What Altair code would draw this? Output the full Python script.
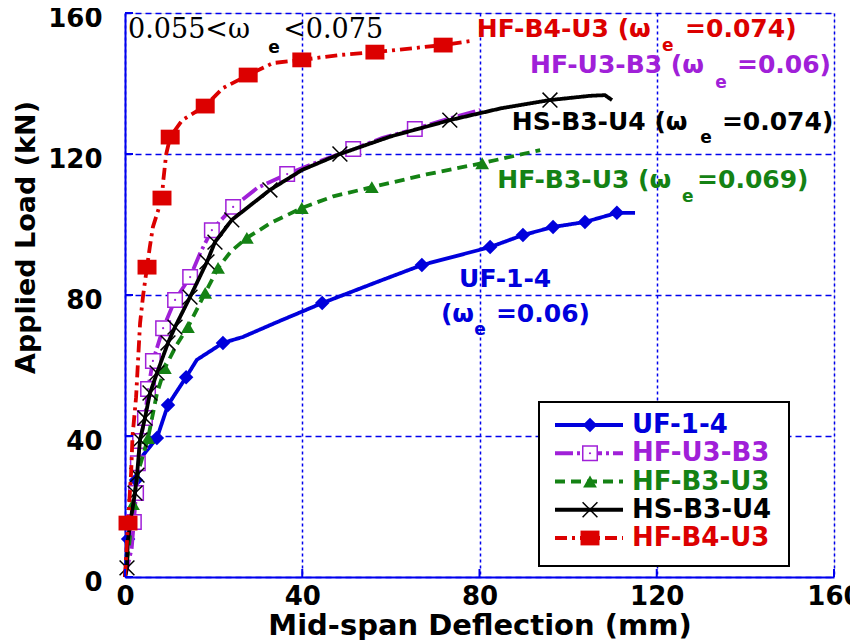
import altair as alt
import pandas as pd

SERIES = ["UF-1-4", "HF-U3-B3", "HF-B3-U3", "HS-B3-U4", "HF-B4-U3"]
COLORS = ["#0000DC", "#A020D8", "#148214", "#000000", "#DC0000"]

# ---- curve data (deflection mm, load kN) ----
uf_x = [0, 0.7, 1.8, 2.5, 4.1, 7.2, 9.7, 13.8, 16.2, 22.1, 26.6, 34.3, 44.5, 56.9, 67.0, 82.4, 89.8, 96.6, 103.8, 111.0, 115.1]
uf_y = [0, 10.8, 19.0, 27.5, 34.6, 39.4, 48.8, 56.7, 61.6, 66.4, 68.1, 72.3, 77.7, 83.7, 88.5, 93.6, 97.0, 99.3, 100.7, 103.3, 103.3]
uf_mx = [0.7, 2.5, 7.2, 9.7, 13.8, 22.1, 44.5, 67.0, 82.4, 89.8, 96.6, 103.8, 111.0]
uf_my = [10.8, 27.5, 39.4, 48.8, 56.7, 66.4, 77.7, 88.5, 93.6, 97.0, 99.3, 100.7, 103.3]

u3b3_x = [0, 1.5, 2.0, 2.5, 2.9, 3.4, 4.5, 5.2, 6.3, 8.6, 11.3, 14.7, 17.0, 19.6, 24.4, 30.0, 36.6, 44.0, 51.5, 58.0, 65.4, 73.0, 80.1]
u3b3_y = [0, 8.0, 15.6, 23.8, 32.3, 38.6, 45.1, 53.3, 61.3, 70.6, 78.6, 85.1, 92.0, 98.4, 105.0, 110.5, 114.3, 118.0, 121.4, 124.5, 127.1, 130.0, 132.5]
u3b3_mx = [2.0, 2.5, 2.9, 3.4, 4.5, 5.2, 6.3, 8.6, 11.3, 14.7, 19.6, 24.4, 36.6, 51.5, 65.4]
u3b3_my = [15.6, 23.8, 32.3, 38.6, 45.1, 53.3, 61.3, 70.6, 78.6, 85.1, 98.4, 105.0, 114.3, 121.4, 127.1]

b3u3_x = [0, 1.0, 1.8, 3.0, 5.2, 7.2, 9.0, 11.5, 14.2, 18.1, 21.0, 24.0, 27.5, 33.0, 39.9, 47.0, 55.7, 68.0, 80.6, 93.7]
b3u3_y = [0, 10.0, 20.7, 30.0, 39.4, 52.0, 59.3, 65.5, 70.9, 80.6, 87.7, 92.5, 96.2, 100.5, 104.7, 108.0, 110.6, 114.2, 117.4, 121.1]
b3u3_mx = [1.8, 5.2, 9.0, 14.2, 18.1, 21.0, 27.5, 39.9, 55.7, 80.6]
b3u3_my = [20.7, 39.4, 59.3, 70.9, 80.6, 87.7, 96.2, 104.7, 110.6, 117.4]

hs_x = [0, 0.45, 0.6, 1.5, 2.26, 2.71, 3.39, 4.51, 5.64, 7.22, 9.7, 11.28, 14.67, 18.5, 20.3, 24.1, 32.7, 40.0, 48.5, 60.0, 73.3, 85.0, 95.9, 104.9, 108.3, 109.9]
hs_y = [0, 2.6, 10.0, 18.0, 23.8, 28.9, 38.9, 45.1, 52.2, 57.9, 66.4, 70.9, 79.4, 89.4, 95.0, 101.3, 109.8, 115.5, 120.0, 125.0, 129.6, 133.0, 135.3, 136.5, 136.7, 135.3]
hs_mx = [0.45, 2.26, 2.71, 3.39, 4.51, 5.64, 7.22, 9.7, 11.28, 14.67, 18.5, 20.3, 24.1, 32.7, 48.5, 73.3, 95.9]
hs_my = [2.6, 23.8, 28.9, 38.9, 45.1, 52.2, 57.9, 66.4, 70.9, 79.4, 89.4, 95.0, 101.3, 109.8, 120.0, 129.6, 135.3]

b4u3_x = [0, 0.68, 1.4, 1.7, 2.5, 3.4, 4.1, 4.97, 5.6, 6.3, 8.35, 8.6, 9.3, 10.2, 12.9, 18.1, 22.1, 27.8, 33.4, 39.9, 48.5, 56.4, 71.8, 78.3]
b4u3_y = [0, 15.3, 30.0, 40.0, 51.0, 72.0, 80.0, 87.9, 93.6, 99.3, 107.5, 112.0, 120.0, 124.8, 129.6, 133.6, 138.7, 142.4, 145.8, 146.7, 148.1, 148.9, 150.9, 152.1]
b4u3_mx = [0.68, 4.97, 8.35, 10.2, 18.1, 27.8, 39.9, 56.4, 71.8]
b4u3_my = [15.3, 87.9, 107.5, 124.8, 133.6, 142.4, 146.7, 148.9, 150.9]

LINE_X = [uf_x, u3b3_x, b3u3_x, hs_x, b4u3_x]
LINE_Y = [uf_y, u3b3_y, b3u3_y, hs_y, b4u3_y]
MARK_X = [uf_mx, u3b3_mx, b3u3_mx, hs_mx, b4u3_mx]
MARK_Y = [uf_my, u3b3_my, b3u3_my, hs_my, b4u3_my]

# ---- annotation text ----
ann_text = ["HF-B4-U3 (ω", "=0.074)", "HF-U3-B3 (ω", "=0.06)", "HS-B3-U4 (ω", "=0.074)",
            "HF-B3-U3 (ω", "=0.069)", "UF-1-4", "(ω", "=0.06)"]
ann_x = [79.4, 126.4, 91.4, 138.1, 87.3, 134.7, 84.0, 129.1, 75.4, 71.3, 83.7]
ann_y = [153.2, 153.2, 143.0, 143.0, 126.8, 126.8, 110.4, 110.4, 82.3, 72.3, 72.3]
ann_c = ["#DC0000", "#DC0000", "#A020D8", "#A020D8", "#000000", "#000000",
         "#148214", "#148214", "#0000DC", "#0000DC", "#0000DC"]
sub_x = [121.2, 133.2, 129.8, 125.7, 78.8, 32.3]
sub_y = [149.3, 138.7, 123.1, 106.4, 68.7, 148.7]
sub_c = ["#DC0000", "#A020D8", "#000000", "#148214", "#0000DC", "#000000"]
range_text = ["0.055<ω", "<0.075"]
range_x = [0.68, 35.7]
range_y = [152.9, 152.9]

TICKS = [0, 40, 80, 120, 160]

# ---- styles ----
DASH = {"UF-1-4": [1, 0], "HF-U3-B3": [18, 4, 3, 4], "HF-B3-U3": [10, 6],
        "HS-B3-U4": [1, 0], "HF-B4-U3": [12, 5, 3, 5]}
MARK = {
    "UF-1-4": dict(shape="diamond", size=210, filled=True, color="#0000DC"),
    "HF-U3-B3": dict(shape="square", size=210, filled=True, fill="white", stroke="#A020D8", strokeWidth=1.5),
    "HF-B3-U3": dict(shape="triangle-up", size=190, filled=True, color="#148214"),
    "HS-B3-U4": dict(shape="M-1,-1L1,1M-1,1L1,-1", size=220, filled=False, color="#000000", strokeWidth=1.5),
    "HF-B4-U3": dict(shape="M-1,-0.78H1V0.78H-1Z", size=360, filled=True, color="#DC0000"),
}
BLUE = "#0000EE"

rows = []
for s, xs_, ys_ in zip(SERIES, LINE_X, LINE_Y):
    for i, (a, b) in enumerate(zip(xs_, ys_)):
        rows.append({"series": s, "x": a, "y": b, "i": i})
lines_df = pd.DataFrame(rows)
mrows = []
for s, xs_, ys_ in zip(SERIES, MARK_X, MARK_Y):
    for a, b in zip(xs_, ys_):
        mrows.append({"series": s, "x": a, "y": b})
markers_df = pd.DataFrame(mrows)

xscale = alt.Scale(domain=[0, 160], nice=False, zero=False)
yscale = alt.Scale(domain=[0, 160], nice=False, zero=False)
xaxis = alt.Axis(values=TICKS, grid=True, gridColor=BLUE, gridDash=[3, 3], gridWidth=1.5,
                 domainColor=BLUE, domainWidth=2, ticks=False, tickSize=0,
                 labelFont="DejaVu Sans", labelFontWeight="bold", labelFontSize=26, labelColor="black",
                 labelPadding=6, labelFlush=False, labelOverlap=False,
                 title="Mid-span Deflection (mm)", titleFont="DejaVu Sans", titleFontWeight="bold",
                 titleFontSize=29, titleColor="black", titleY=57, titleBaseline="alphabetic")
yaxis = alt.Axis(values=TICKS, grid=True, gridColor=BLUE, gridDash=[6, 4], gridWidth=1.5,
                 domainColor=BLUE, domainWidth=2, ticks=False, tickSize=0,
                 labelFont="DejaVu Sans", labelFontWeight="bold", labelFontSize=26, labelColor="black",
                 labelPadding=23, labelOffset=5, labelFlush=False, labelOverlap=False,
                 title="Applied Load (kN)", titleFont="DejaVu Sans", titleFontWeight="bold",
                 titleFontSize=27, titleColor="black", titleX=-99, titleY=224,
                 titleAlign="center", titleBaseline="middle", titleAngle=270)
X = alt.X("x:Q", scale=xscale, axis=xaxis)
Y = alt.Y("y:Q", scale=yscale, axis=yaxis)

layers = []
for s, c in zip(SERIES, COLORS):
    ldf = lines_df[lines_df.series == s]
    layers.append(alt.Chart(ldf).mark_line(color=c, strokeWidth=3.8, strokeDash=DASH[s])
                  .encode(x=X, y=Y, order="i:Q"))
    mdf = markers_df[markers_df.series == s]
    layers.append(alt.Chart(mdf).mark_point(opacity=1, **MARK[s]).encode(x=X, y=Y))
    if s == "HF-U3-B3":
        layers.append(alt.Chart(mdf).mark_point(shape="circle", size=5, filled=True, color=c, opacity=1)
                      .encode(x=X, y=Y))

# inward ticks
tx = pd.DataFrame({"x": TICKS})
ty = pd.DataFrame({"y": TICKS})
layers.append(alt.Chart(tx).mark_rule(color=BLUE, strokeWidth=2)
              .encode(x=X, y=alt.value(564), y2=alt.value(556)))
layers.append(alt.Chart(ty).mark_rule(color=BLUE, strokeWidth=2)
              .encode(y=Y, x=alt.value(0), x2=alt.value(8)))

# annotations
ann_df = pd.DataFrame({"t": ann_text, "x": ann_x, "y": ann_y, "c": ann_c})
layers.append(alt.Chart(ann_df).mark_text(align="left", baseline="alphabetic", font="DejaVu Sans",
                                          fontWeight="bold", fontSize=25)
              .encode(x=X, y=Y, text="t:N", color=alt.Color("c:N", scale=None)))
sub_df = pd.DataFrame({"t": ["e"] * len(sub_x), "x": sub_x, "y": sub_y, "c": sub_c})
layers.append(alt.Chart(sub_df).mark_text(align="left", baseline="alphabetic", font="DejaVu Sans",
                                          fontWeight="bold", fontSize=17)
              .encode(x=X, y=Y, text="t:N", color=alt.Color("c:N", scale=None)))
rng_df = pd.DataFrame({"t": range_text, "x": range_x, "y": range_y})
layers.append(alt.Chart(rng_df).mark_text(align="left", baseline="alphabetic", font="DejaVu Serif",
                                          fontSize=27, color="black")
              .encode(x=X, y=Y, text="t:N"))

main = alt.layer(*layers)

# legend (box + entries)
leg_df = pd.DataFrame({"name": SERIES, "row": list(range(len(SERIES)))})
row_y = alt.Y("row:Q", scale=alt.Scale(domain=[0, 4], range=[412, 525]), axis=None)
color_s = alt.Color("name:N", scale=alt.Scale(domain=SERIES, range=COLORS), legend=None)
dash_s = alt.StrokeDash("name:N", scale=alt.Scale(domain=SERIES, range=[DASH[s] for s in SERIES]), legend=None)

leg_layers = [
    alt.Chart(pd.DataFrame({"k": [0]})).mark_rect(fill="white", stroke="black", strokeWidth=2)
    .encode(x=alt.value(414), x2=alt.value(664), y=alt.value(389), y2=alt.value(553)),
    alt.Chart(leg_df).mark_rule(strokeWidth=3.8)
    .encode(x=alt.value(430), x2=alt.value(498), y=row_y, color=color_s, strokeDash=dash_s),
]
for s in SERIES:
    leg_layers.append(alt.Chart(leg_df).transform_filter(alt.datum.name == s)
                      .mark_point(opacity=1, **MARK[s]).encode(x=alt.value(465), y=row_y))
leg_layers.append(alt.Chart(leg_df).transform_filter(alt.datum.name == "HF-U3-B3")
                  .mark_point(shape="circle", size=5, filled=True, color="#A020D8", opacity=1)
                  .encode(x=alt.value(465), y=row_y))
leg_layers.append(alt.Chart(leg_df).mark_text(align="left", baseline="middle", font="DejaVu Sans",
                                              fontWeight="bold", fontSize=26)
                  .encode(x=alt.value(507), y=row_y, text="name:N", color=color_s))
legend = alt.layer(*leg_layers)

chart = (alt.layer(main, legend)
         .resolve_scale(y="independent")
         .properties(width=709, height=564,
                     autosize=alt.AutoSizeParams(type="none"),
                     padding={"left": 117, "top": 5, "right": 16, "bottom": 63})
         .configure_view(stroke=BLUE, strokeWidth=2)
         .configure(background="white"))

chart.save("out.html", embed_options={"renderer": "svg", "actions": False})
